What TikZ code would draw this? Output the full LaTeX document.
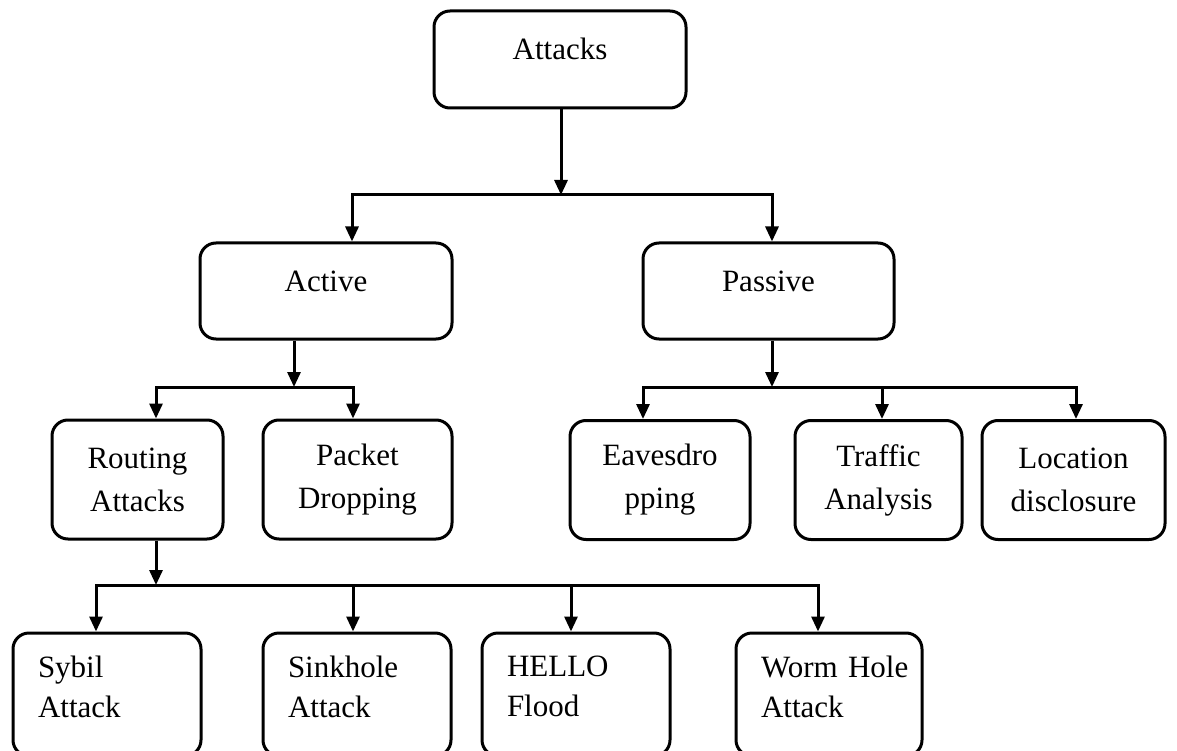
\documentclass[tikz,border=0pt]{standalone}
\usepackage{fontspec}
\setmainfont{Liberation Serif}
\usetikzlibrary{arrows.meta}
\def\tailstrut{\rule[-16pt]{0pt}{16pt}}

\begin{document}
\begin{tikzpicture}[x=1pt, y=-1pt,
		box/.style={draw, line width=3pt, rounded corners=16pt, align=center, inner sep=0pt, font=\fontsize{31}{43}\selectfont},
		onebox/.style={box, text height=21pt, text depth=21pt},
		leafbox/.style={box, align=left, inner xsep=25pt, font=\fontsize{31}{40}\selectfont},
		arr/.style={line width=3pt, -{Triangle[length=15pt, width=13pt]}}]
		%%%%% START %%%%%
		
		\useasboundingbox (0, 0) rectangle (1177, 751);
		
		\node[onebox, minimum width=252, minimum height=97] (attacks) at (560, 59.5) {Attacks};
		
		\node[onebox, minimum width=252, minimum height=96] (active) at (326, 291) {Active};
		\node[onebox, minimum width=251, minimum height=96] (passive) at (768.5, 291) {Passive};
		
		\node[box, minimum width=171, minimum height=119] (routing) at (137.5, 479.5) {Routing\\Attacks};
		\node[box, minimum width=189, minimum height=119] (packet) at (357.5, 479.5) {Packet\\Dropping};
		\node[box, minimum width=180, minimum height=119] (eaves) at (660, 480) {Eavesdro\\pping};
		\node[box, minimum width=167, minimum height=119] (traffic) at (878.5, 480) {Traffic\\Analysis};
		\node[box, minimum width=183, minimum height=119] (location) at (1073.5, 480) {Location\\disclosure};
		
		\node[leafbox, text width=138, minimum height=123] (sybil) at (107, 694.5) {Sybil\\Attack\tailstrut};
		\node[leafbox, text width=138, minimum height=123] (sinkhole) at (357, 694.5) {Sinkhole\\Attack\tailstrut};
		\node[leafbox, text width=138, minimum height=123] (hello) at (576, 694.5) {HELLO\\Flood\tailstrut};
		\node[leafbox, text width=136, minimum height=123] (worm) at (829, 694.5) {Worm~Hole\\Attack\tailstrut};
		
		\coordinate (j1) at (561, 195);
		\coordinate (j2) at (294, 387);
		\coordinate (j3) at (772, 387);
		\coordinate (j4) at (156, 585);
		
		\draw[arr] (attacks.south -| j1) -- (j1);
		\draw[arr] (j1) -| ([xshift=26pt]active.north);
		\draw[arr] (j1) -| ([xshift=3.5pt]passive.north);
		
		\draw[arr] (active.south -| j2) -- (j2);
		\draw[arr] (j2) -| ([xshift=18.5pt]routing.north);
		\draw[arr] (j2) -| ([xshift=-4.5pt]packet.north);
		
		\draw[arr] (passive.south -| j3) -- (j3);
		\draw[arr] (j3) -| ([xshift=-17pt]eaves.north);
		\draw[arr] (j3) -| ([xshift=3.5pt]traffic.north);
		\draw[arr] (j3) -| ([xshift=2.5pt]location.north);
		
		\draw[arr] (routing.south -| j4) -- (j4);
		\draw[arr] (j4) -| ([xshift=-11pt]sybil.north);
		\draw[arr] (j4) -| ([xshift=-4pt]sinkhole.north);
		\draw[arr] (j4) -| ([xshift=-5pt]hello.north);
		\draw[arr] (j4) -| ([xshift=-11pt]worm.north);
		
		%%%%% END %%%%%
\end{tikzpicture}
\end{document}
